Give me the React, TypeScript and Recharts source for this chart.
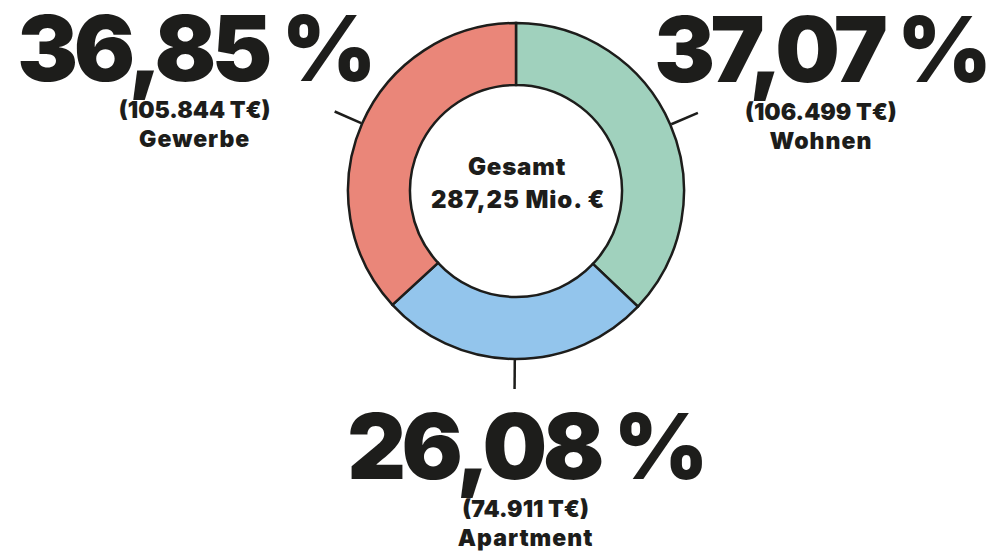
import React from 'react';
import { PieChart, Pie, Cell } from 'recharts';

const categories = ['Wohnen', 'Apartment', 'Gewerbe'];
const amounts = [106499, 74911, 105844]; // T€
const colors = ['#A0D1BD', '#93C5EC', '#EA8679'];
const centerTitle = 'Gesamt';

const ink = '#1D1D1B';
const font = 'Inter, "Noto Sans", sans-serif';

const total = amounts.reduce((a, b) => a + b, 0);
const de = (n: number, d: number) =>
  n.toLocaleString('de-DE', { minimumFractionDigits: d, maximumFractionDigits: d });

const chartData = categories.map((name, i) => ({
  name,
  value: amounts[i],
  pct: de((amounts[i] / total) * 100, 2) + ' %',
  amount: '(' + de(amounts[i], 0) + ' T€)',
}));

const RAD = Math.PI / 180;

function renderLabel(props: any) {
  const { cx, cy, midAngle, outerRadius, index } = props;
  const d = chartData[index];
  const cos = Math.cos(-midAngle * RAD);
  const sin = Math.sin(-midAngle * RAD);
  const x1 = cx + (outerRadius + 1) * cos;
  const y1 = cy + (outerRadius + 1) * sin;
  const x2 = cx + (outerRadius + 30) * cos;
  const y2 = cy + (outerRadius + 30) * sin;

  let tx = x2;
  let ty = y2;
  if (Math.abs(cos) > 0.5) {
    tx = x2 + (cos > 0 ? 123 : -140);
    ty = y2 - 31;
  } else {
    tx = x2 + 11;
    ty = y2 + 90;
  }

  return (
    <g>
      <line x1={x1} y1={y1} x2={x2} y2={y2} stroke={ink} strokeWidth={2.5} />
      <text x={tx} y={ty} textAnchor="middle" fill={ink} fontFamily={font} fontWeight={900} fontSize={91} letterSpacing={-4.5}>
        {d.pct}
      </text>
      <text x={tx} y={ty + 38} textAnchor="middle" fill={ink} fontFamily={font} fontWeight={900} fontSize={23} letterSpacing={0}>
        {d.amount}
      </text>
      <text x={tx} y={ty + 67} textAnchor="middle" fill={ink} fontFamily={font} fontWeight={900} fontSize={23} letterSpacing={1}>
        {d.name}
      </text>
      {index === 0 && (
        <g>
          <text x={cx + 1} y={cy - 16} textAnchor="middle" fill={ink} fontFamily={font} fontWeight={900} fontSize={24} letterSpacing={0.8}>
            {centerTitle}
          </text>
          <text x={cx + 2} y={cy + 17} textAnchor="middle" fill={ink} fontFamily={font} fontWeight={900} fontSize={24} letterSpacing={0.9}>
            {de(total / 1000, 2) + ' Mio. €'}
          </text>
        </g>
      )}
    </g>
  );
}

export default function App() {
  return (
    <div style={{ position: 'absolute', left: 0, top: 0, width: 1008, height: 552, background: '#fff' }}>
      <PieChart width={1008} height={552} margin={{ top: 0, right: 0, bottom: 0, left: 0 }}>
        <Pie
          data={chartData}
          dataKey="value"
          cx={516}
          cy={191}
          innerRadius={106}
          outerRadius={168}
          startAngle={90}
          endAngle={-270}
          stroke={ink}
          strokeWidth={2.5}
          label={renderLabel}
          labelLine={false}
          isAnimationActive={false}
        >
          {chartData.map((d, i) => (
            <Cell key={d.name} fill={colors[i]} />
          ))}
        </Pie>
      </PieChart>
    </div>
  );
}
